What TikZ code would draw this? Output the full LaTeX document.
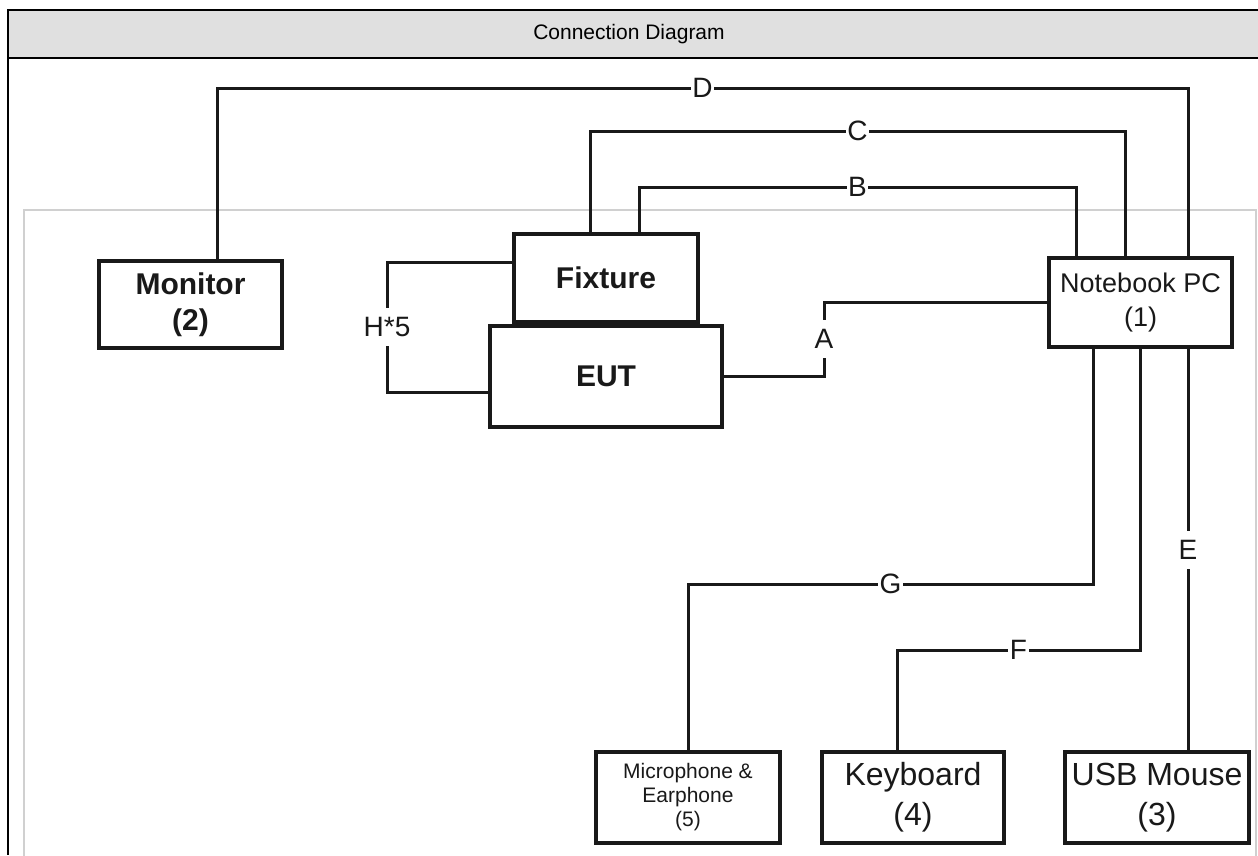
\documentclass[tikz,border=0pt]{standalone}
\usepackage{fontspec}
\setmainfont{Liberation Sans}
\definecolor{ink}{RGB}{25,25,25}
\definecolor{band}{RGB}{224,224,224}
\definecolor{rim}{RGB}{208,208,208}
\tikzset{
  unit/.style={draw=ink,line width=3.5pt,fill=white,align=center,inner sep=0pt,text=ink},
  wire/.style={draw=ink,line width=3pt},
  lbl/.style={fill=white,inner xsep=1.5pt,inner ysep=0pt,minimum height=38pt,
    text=ink,font=\fontsize{28}{28}\selectfont},
  bigbold/.style={font=\fontsize{30}{36}\selectfont\bfseries},
  big/.style={font=\fontsize{32}{40}\selectfont},
}

\begin{document}
\begin{tikzpicture}[x=1pt,y=-1pt]
\useasboundingbox (0,0) rectangle (1258,855);
% frame and title band
\draw[rim,line width=2pt] (24,210) rectangle (1256,870);
\fill[band] (8,10) rectangle (1258,58);
\draw[line width=2pt] (1258,10) -- (8,10) -- (8,855);
\draw[line width=2pt] (8,58) -- (1258,58);
\node[font=\fontsize{21}{21}\selectfont] (title) at (629,34) {Connection Diagram};

% units
\node[unit,bigbold,minimum width=183pt,minimum height=87pt] (monitor) at (190.5,304.5) {Monitor\\(2)};
\node[unit,bigbold,minimum width=184pt,minimum height=88pt] (fixture) at (606,278) {Fixture};
\node[unit,bigbold,minimum width=232pt,minimum height=101pt] (eut) at (606,376.5) {EUT};
\node[unit,font=\fontsize{27}{34}\selectfont,minimum width=183pt,minimum height=89pt]
  (notebook) at (1140.5,302.5) {Notebook PC\\(1)};
\node[unit,font=\fontsize{21}{24}\selectfont,minimum width=184pt,minimum height=91pt]
  (mic) at (688,797.5) {Microphone \&\\Earphone\\(5)};
\node[unit,big,minimum width=182pt,minimum height=91pt] (keyboard) at (913,797.5) {Keyboard\\(4)};
\node[unit,big,minimum width=184pt,minimum height=91pt] (mouse) at (1157,797.5) {USB Mouse\\(3)};

% cables over the top
\foreach \src/\xa/\yy/\xb/\lab in {monitor/217/88/1188/D,fixture/590/131/1125/C,fixture/639/187/1076/B}{
  \draw[wire] (\xa,0 |- \src.north) -- (\xa,\yy) -- node[lbl]{\lab} (\xb,\yy) -- (\xb,0 |- notebook.north);}
% cables below
\foreach \xa/\yy/\xb/\dst/\lab in {1093/584/688/mic/G,1140/650/897/keyboard/F}{
  \draw[wire] (\xa,0 |- notebook.south) -- (\xa,\yy) -- node[lbl]{\lab} (\xb,\yy) -- (\xb,0 |- \dst.north);}
\draw[wire] (1188,0 |- notebook.south) -- node[lbl]{E} (1188,0 |- mouse.north);
% EUT side
\draw[wire] (eut.east) -- (824,0 |- eut.east) -- node[lbl]{A} (824,302) -- (notebook.west |- 0,302);
\draw[wire] (fixture.west |- 0,262) -- (387,262) -- node[lbl]{H*5} (387,392) -- (eut.west |- 0,392);
\end{tikzpicture}
\end{document}
